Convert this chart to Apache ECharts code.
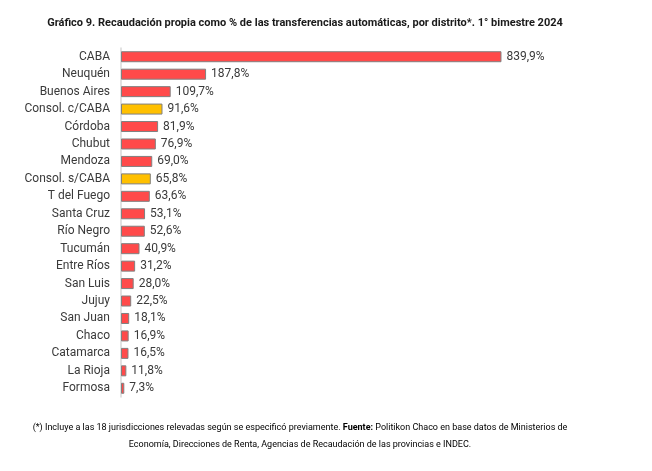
<!DOCTYPE html>
<html>
<head>
<meta charset="utf-8">
<script src="https://cdn.jsdelivr.net/npm/echarts@6/dist/echarts.min.js"></script>
<style>
  html, body { margin: 0; padding: 0; background: #fff; }
  #main { width: 652px; height: 471px; }
</style>
</head>
<body>
<div id="main"></div>
<script>
// datos
var distritos = ['CABA', 'Neuquén', 'Buenos Aires', 'Consol. c/CABA', 'Córdoba', 'Chubut', 'Mendoza',
  'Consol. s/CABA', 'T del Fuego', 'Santa Cruz', 'Río Negro', 'Tucumán', 'Entre Ríos', 'San Luis',
  'Jujuy', 'San Juan', 'Chaco', 'Catamarca', 'La Rioja', 'Formosa'];
var valores = [839.9, 187.8, 109.7, 91.6, 81.9, 76.9, 69.0, 65.8, 63.6, 53.1, 52.6, 40.9, 31.2, 28.0,
  22.5, 18.1, 16.9, 16.5, 11.8, 7.3];
var consolidados = ['Consol. c/CABA', 'Consol. s/CABA'];

var fuente = '"Roboto", sans-serif';

var myChart = echarts.init(document.getElementById('main'));

var datos = [];
for (var i = 0; i < valores.length; i++) {
  var esCons = consolidados.indexOf(distritos[i]) >= 0;
  datos.push({
    value: valores[i],
    itemStyle: { color: esCons ? '#FFC000' : '#FF4A4A' }
  });
}

option = {
  backgroundColor: '#ffffff',
  animation: false,
  title: {
    text: 'Gráfico 9. Recaudación propia como % de las transferencias automáticas, por distrito*. 1° bimestre 2024',
    left: 300,
    textAlign: 'center',
    top: 13,
    textStyle: { fontFamily: fuente, fontSize: 11, fontWeight: 'bold', color: '#1a1a1a' }
  },
  graphic: [{
    type: 'text',
    x: 300,
    y: 419,
    style: {
      text: '{n|(*) Incluye a las 18 jurisdicciones relevadas según se especificó previamente. }{b|Fuente:}{n| Politikon Chaco en base datos de Ministerios de}\n{n|Economía, Direcciones de Renta, Agencias de Recaudación de las provincias e INDEC.}',
      textAlign: 'center',
      rich: {
        n: { fontFamily: fuente, fontSize: 9, color: '#222', lineHeight: 17, align: 'center' },
        b: { fontFamily: fuente, fontSize: 9, color: '#222', fontWeight: 'bold', lineHeight: 17 }
      }
    }
  }],
  grid: { left: 121, top: 48, width: 453, height: 349, containLabel: false },
  xAxis: {
    type: 'value',
    min: 0,
    max: 1000,
    show: false
  },
  yAxis: {
    type: 'category',
    data: distritos,
    inverse: true,
    axisLine: { show: true, lineStyle: { color: '#d9d9d9', width: 1.5 } },
    axisTick: { show: false },
    axisLabel: { fontFamily: fuente, fontSize: 12, color: '#3a3a3a', margin: 11 }
  },
  series: [{
    type: 'bar',
    data: datos,
    barWidth: 11,
    itemStyle: { borderColor: '#808080', borderWidth: 1 },
    label: {
      show: true,
      position: 'right',
      distance: 5,
      fontFamily: fuente,
      fontSize: 12,
      color: '#3a3a3a',
      formatter: function (p) {
        return p.value.toFixed(1).replace('.', ',') + '%';
      }
    }
  }]
};

myChart.setOption(option);
</script>
</body>
</html>
